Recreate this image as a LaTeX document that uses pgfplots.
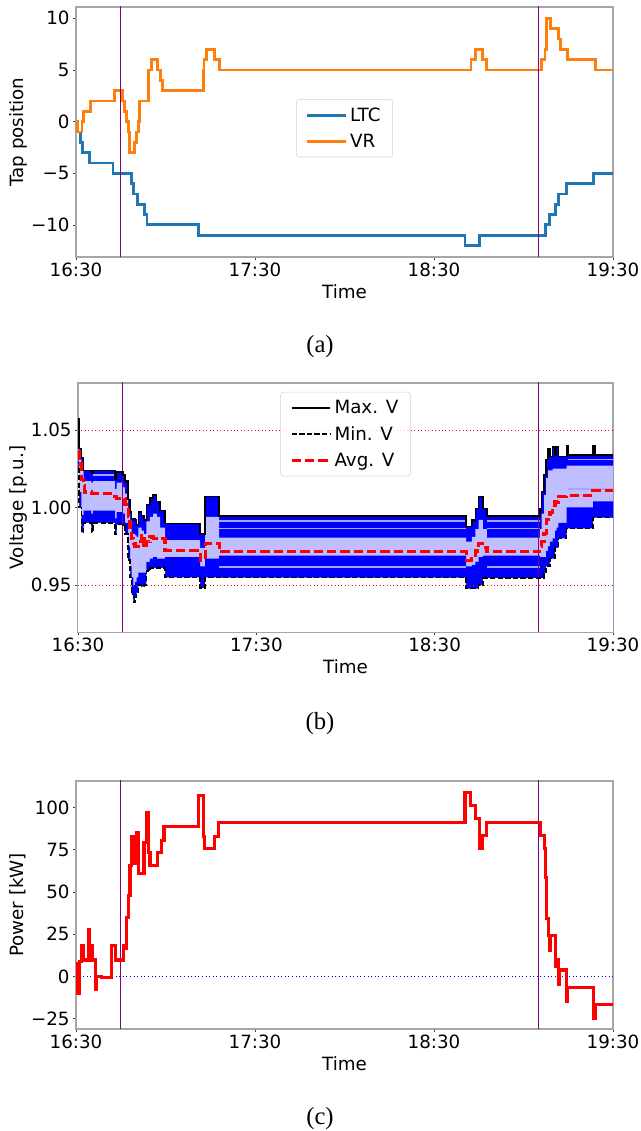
\documentclass[border=0pt]{standalone}
\usepackage{fontspec}
\setmainfont{DejaVu Sans}
\newfontfamily\capfont{Liberation Serif}
\usepackage{pgfplots}
\usepackage{pgfplotstable}
\pgfplotsset{compat=1.18}

\definecolor{ltc}{HTML}{1F77B4}
\definecolor{vr}{HTML}{FF7F0E}
\definecolor{mplpurple}{HTML}{800080}
\definecolor{pureblue}{HTML}{0000FF}
\definecolor{purered}{HTML}{FF0000}

% tap positions, minutes after 16:30
\pgfplotstableread{
t ltc
0 0
0.6 -1
1.5 -2
2.1 -3
4.6 -4
12.4 -5
18.5 -6
19.3 -7
20.6 -8
23.1 -9
23.8 -10
41.0 -11
130.4 -12
135.2 -11
157.3 -10
158.7 -9
160.6 -8
161.7 -7
164.3 -6
173.4 -5
180 -5
}\ltcdata

\pgfplotstableread{
t vr
0 0
0.4 -1
2.0 0
2.6 1
5.0 2
12.8 3
15.7 2
16.3 1
17.0 0
17.5 -1
17.9 -3
19.5 -2
20.2 -1
21.0 0
21.3 2
24.4 5
25.3 6
27.4 5
28.3 4
28.9 3
42.6 5
42.9 6
43.6 7
46.4 6
48.0 5
132.4 6
133.8 7
136.3 6
137.7 5
156.1 6
157.2 7
157.8 10
159.2 9
161.7 8
162.3 7
164.8 6
174.0 5
180 5
}\vrdata

% voltages: max, min, avg and the edges of the dense part of the band
\pgfplotstableread{
t vmax vmin vavg vup vlo
0 1.057 1.025 1.036 1.045 1.030
0.4 1.038 1.000 1.028 1.033 1.010
1.1 1.032 0.984 1.018 1.027 0.995
1.9 1.024 0.990 1.014 1.018 0.998
2.3 1.024 0.990 1.010 1.017 0.998
4.5 1.022 0.984 1.009 1.016 0.996
5.1 1.024 0.990 1.009 1.017 0.998
12.4 1.018 0.983 1.007 1.012 0.993
13.0 1.023 0.989 1.006 1.016 0.997
15.2 1.021 0.988 1.006 1.013 0.996
15.8 1.017 0.983 1.002 1.009 0.990
16.9 1.005 0.966 0.994 0.998 0.975
17.5 0.997 0.955 0.985 0.988 0.962
18.0 0.993 0.944 0.980 0.983 0.955
18.6 0.993 0.939 0.977 0.983 0.950
19.2 0.992 0.942 0.975 0.982 0.952
19.7 0.989 0.945 0.975 0.981 0.955
20.3 0.997 0.950 0.978 0.987 0.958
21.4 0.995 0.949 0.982 0.985 0.958
22.2 0.992 0.950 0.974 0.983 0.958
23.0 1.002 0.959 0.978 0.991 0.965
24.2 1.006 0.961 0.981 0.994 0.967
25.3 1.008 0.961 0.980 0.996 0.968
26.5 1.004 0.961 0.980 0.994 0.967
27.6 0.998 0.961 0.980 0.987 0.967
29.3 0.9897 0.955 0.9724 0.979 0.968
41.1 0.983 0.948 0.966 0.974 0.962
42.8 1.007 0.955 0.977 0.994 0.967
47.5 0.9944 0.9547 0.9714 0.9805 0.969
130.6 0.9876 0.9476 0.966 0.978 0.962
132.5 0.992 0.9476 0.969 0.981 0.963
133.7 0.9994 0.9476 0.972 0.986 0.965
134.8 1.007 0.950 0.977 0.992 0.968
136.2 0.9994 0.9545 0.974 0.986 0.969
137.6 0.9944 0.9545 0.9714 0.9805 0.969
155.4 0.999 0.9545 0.975 0.986 0.968
156.0 1.010 0.9545 0.978 0.996 0.968
156.8 1.021 0.958 0.983 1.008 0.968
157.5 1.031 0.962 0.992 1.019 0.972
158.2 1.038 0.962 0.994 1.024 0.975
158.8 1.033 0.967 0.997 1.024 0.978
159.7 1.039 0.967 1.0015 1.025 0.980
160.5 1.0335 0.974 1.0036 1.025 0.985
161.0 1.039 0.974 1.0036 1.025 0.987
161.6 1.033 0.980 1.007 1.025 0.990
164.4 1.040 0.9865 1.0079 1.027 1.000
164.9 1.034 0.9865 1.0079 1.027 1.000
173.3 1.040 0.9934 1.011 1.027 1.004
173.9 1.034 0.9934 1.011 1.027 1.004
180 1.034 0.9934 1.011 1.027 1.004
}\voltdata

% power, kW
\pgfplotstableread{
t p
0 8
0.45 -10
1.3 8.8
1.9 18.6
2.5 9.8
4.1 27.8
4.5 9.8
4.9 18.6
5.5 9.8
6.4 -7.8
6.9 0.2
8.5 -0.4
10.5 -0.6
12.0 18.6
13.1 9.8
15.9 18.6
16.4 16.7
17.0 35
17.5 48
18.1 65.7
18.7 83
19.2 66.7
19.8 82
20.3 85
20.9 60.8
22.8 79.4
23.5 97
24.25 73.5
24.8 65.7
27.3 73.5
28.7 80.4
29.5 88.8
34 88.6
38 89.0
41.0 106.9
42.7 83
43.2 76
46.3 83
47.7 91.2
55 91.0
62 91.3
70 91.0
78 91.2
86 90.9
95 91.3
104 91.0
112 91.2
121 91.0
127 91.2
130.4 108.8
132.3 101.4
133.8 93.5
135.2 75.9
136.2 83.3
137.5 91.2
143 91.0
149 91.2
155.6 83.3
156.9 76
157.3 58.8
157.6 34.3
158.4 24.1
158.7 15.7
159.0 24.1
160.6 5.9
161.1 9.8
161.7 -4.9
162.0 3.9
164.3 -14.7
164.8 -6.3
173.4 -24.5
174.2 -16.7
180 -16.7
}\powerdata

\pgfplotsset{
  every axis/.append style={
    font=\fontsize{13.7}{16}\selectfont,
    scale only axis,
    xmin=0, xmax=180,
    xtick={0,60,120,180},
    xticklabels={16:30,17:30,18:30,19:30},
    xtick pos=bottom, ytick pos=left,
    tick align=outside,
    major tick length=2.6pt,
    tick style={black!75, line width=0.6pt},
    axis line style={gray!70, line width=0.8pt},
    ticklabel style={inner sep=2pt},
    xlabel={Time},
    xlabel style={at={(axis description cs:0.5,0)}, anchor=center, yshift=-26pt},
    legend style={draw=gray!35, rounded corners=2pt, fill=white, fill opacity=0.8,
      text opacity=1, cells={anchor=west}, row sep=4pt, inner xsep=7pt, inner ysep=4pt},
    legend image code/.code={\draw[#1] (0pt,0pt) -- (29pt,0pt);},
  },
  vline/.style={mplpurple, line width=0.9pt, forget plot},
  streak/.style={pureblue!35, line width=1.1pt, forget plot},
}

\begin{document}
\begin{tikzpicture}
\useasboundingbox (0,0) rectangle (480pt,848.25pt);

% (a) tap positions
\begin{axis}[
  at={(57pt,655.5pt)}, anchor=south west,
  width=402.75pt, height=187.5pt,
  ymin=-13.1, ymax=11.1,
  ytick={-10,-5,0,5,10},
  yticklabels={−10,−5,0,5,10},
  ylabel={Tap position},
  ylabel style={at={(axis description cs:-0.108,0.5)}, anchor=center},
  legend style={at={(0.5,0.515)}, anchor=center},
]
\addplot[ltc, line width=2.2pt, const plot] table[x=t, y=ltc] {\ltcdata};
\addlegendentry{LTC}
\addplot[vr, line width=2.2pt, const plot] table[x=t, y=vr] {\vrdata};
\addlegendentry{VR}
\addplot[vline] coordinates {(15,-20) (15,20)};
\addplot[vline] coordinates {(155,-20) (155,20)};
\end{axis}
\node[font=\capfont\fontsize{18.5}{20}\selectfont] at (240pt,588pt) {(a)};

% (b) voltages: band drawn as stacked fills down to the bottom
\begin{axis}[
  at={(58.5pt,374.25pt)}, anchor=south west,
  width=401.25pt, height=186.75pt,
  ymin=0.9197, ymax=1.0803,
  ytick={0.95,1.00,1.05},
  yticklabels={0.95,1.00,1.05},
  ylabel={Voltage [p.u.]},
  ylabel style={at={(axis description cs:-0.112,0.5)}, anchor=center},
  legend style={at={(0.5,0.964)}, anchor=north},
]
\addplot[draw=none, fill=pureblue, const plot, forget plot] table[x=t, y=vmax] {\voltdata} \closedcycle;
\addplot[draw=none, fill=pureblue!25, const plot, forget plot] table[x=t, y=vup] {\voltdata} \closedcycle;
\addplot[draw=none, fill=pureblue, const plot, forget plot] table[x=t, y=vlo] {\voltdata} \closedcycle;
\addplot[draw=none, fill=white, const plot, forget plot] table[x=t, y=vmin] {\voltdata} \closedcycle;
% lighter streaks inside the dense parts of the band
\addplot[streak] coordinates {(47.5,0.9912) (130.6,0.9912)};
\addplot[streak] coordinates {(137.6,0.9912) (155.4,0.9912)};
\addplot[streak] coordinates {(47.5,0.9865) (130.6,0.9865)};
\addplot[streak] coordinates {(137.6,0.9865) (155.4,0.9865)};
\addplot[streak] coordinates {(47.5,0.9615) (130.6,0.9615)};
\addplot[streak] coordinates {(137.6,0.9615) (155.4,0.9615)};
\addplot[streak] coordinates {(164.9,1.031) (180,1.031)};
\addplot[streak] coordinates {(164.9,1.012) (180,1.012)};
\addplot[streak] coordinates {(5.1,1.021) (12.4,1.021)};
\addplot[purered, line width=0.6pt, dotted, forget plot] coordinates {(0,1.05) (180,1.05)};
\addplot[purered, line width=0.6pt, dotted, forget plot] coordinates {(0,0.95) (180,0.95)};
\addplot[vline] coordinates {(15,0.8) (15,1.2)};
\addplot[vline] coordinates {(155,0.8) (155,1.2)};
\addplot[black, line width=1.1pt, const plot] table[x=t, y=vmax] {\voltdata};
\addlegendentry{Max. V}
\addplot[black, line width=1.1pt, const plot, dash pattern=on 4pt off 1.7pt] table[x=t, y=vmin] {\voltdata};
\addlegendentry{Min. V}
\addplot[purered, line width=2.4pt, const plot, dash pattern=on 7pt off 3pt] table[x=t, y=vavg] {\voltdata};
\addlegendentry{Avg. V}
\end{axis}
\node[font=\capfont\fontsize{18.5}{20}\selectfont] at (240pt,305.25pt) {(b)};

% (c) power
\begin{axis}[
  at={(57pt,76.5pt)}, anchor=south west,
  width=402.75pt, height=186pt,
  ymin=-31, ymax=115.7,
  ytick={-25,0,25,50,75,100},
  yticklabels={−25,0,25,50,75,100},
  ylabel={Power [kW]},
  ylabel style={at={(axis description cs:-0.108,0.5)}, anchor=center},
]
\addplot[pureblue, line width=0.7pt, dotted] coordinates {(0,0) (180,0)};
\addplot[vline] coordinates {(15,-50) (15,150)};
\addplot[vline] coordinates {(155,-50) (155,150)};
\addplot[purered, line width=2.3pt, const plot] table[x=t, y=p] {\powerdata};
\end{axis}
\node[font=\capfont\fontsize{18.5}{20}\selectfont] at (240pt,9pt) {(c)};
\end{tikzpicture}
\end{document}
